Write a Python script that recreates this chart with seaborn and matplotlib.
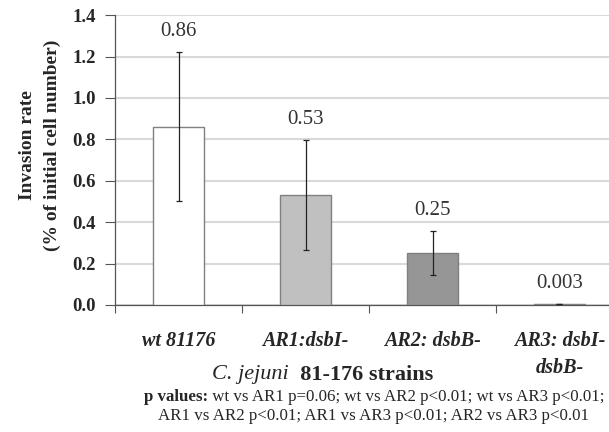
import matplotlib
matplotlib.use("Agg")
import matplotlib.pyplot as plt
import seaborn as sns

strains = ["wt 81176", "AR1:dsbI-", "AR2: dsbB-", "AR3: dsbI-\ndsbB-"]
invasion = [0.86, 0.53, 0.25, 0.003]
err = [0.36, 0.265, 0.105, 0.0]
value_labels = ["0.86", "0.53", "0.25", "0.003"]
bar_colors = ["#ffffff", "#c0c0c0", "#969696", "#303030"]

sns.set_style("white")
plt.rcParams["font.family"] = ["Liberation Serif", "DejaVu Serif"]

fig = plt.figure(figsize=(6.09, 4.32), dpi=100)
ax = fig.add_axes([0.189, 0.294, 0.811, 0.671])

sns.barplot(x=strains, y=invasion, hue=strains, palette=bar_colors, legend=False,
            width=0.4, edgecolor="#808080", linewidth=1.0, ax=ax, zorder=3)
ax.errorbar(range(len(strains)), invasion, yerr=err, fmt="none", ecolor="#222222",
            elinewidth=0.9, capsize=2, capthick=0.9, zorder=4)

for i, (v, e, lab) in enumerate(zip(invasion, err, value_labels)):
    ax.annotate(lab, (i, v + e), xytext=(0, 15), textcoords="offset points",
                ha="center", va="center", fontsize=15, color="#333333")

ax.set_ylim(0, 1.4)
ax.set_xlim(-0.5, 3.39)
ax.set_yticks([0, 0.2, 0.4, 0.6, 0.8, 1.0, 1.2, 1.4])
ax.set_yticklabels([f"{t:.1f}" for t in ax.get_yticks()], fontsize=13.5, fontweight="bold")
ax.yaxis.grid(True, color="#d9d9d9", linewidth=1.5, zorder=0)
ax.set_axisbelow(True)

# category boundary ticks on x axis, labels placed by hand
ax.set_xticks([-0.5, 0.5, 1.5, 2.5])
ax.set_xticklabels([])
ax.tick_params(axis="x", length=6, width=0.8, color="#555555", direction="out", bottom=True)
ax.tick_params(axis="y", length=7, width=0.8, color="#555555", direction="out", left=True, pad=7)
for i, s in enumerate(strains):
    ax.text(i, -0.09, s, transform=ax.get_xaxis_transform(), ha="center", va="top",
            fontsize=14.5, fontweight="bold", fontstyle="italic", linespacing=1.45)

for side in ["top", "right"]:
    ax.spines[side].set_visible(False)
for side in ["left", "bottom"]:
    ax.spines[side].set_color("#555555")
    ax.spines[side].set_linewidth(0.9)

ax.set_ylabel("Invasion rate\n(% of initial cell number)", fontsize=14, fontweight="bold",
              linespacing=1.55)
ax.yaxis.set_label_coords(-0.11, 0.55)


def mixed_line(parts, xc, y, size):
    # parts: list of (text, weight, style); drawn side by side, centred on xc
    renderer = fig.canvas.get_renderer()
    texts, widths = [], []
    for s, w, st in parts:
        t = fig.text(0, y, s, fontsize=size, fontweight=w, fontstyle=st, va="center")
        texts.append(t)
        widths.append(t.get_window_extent(renderer).width / fig.bbox.width)
    x = xc - sum(widths) / 2
    for t, wd in zip(texts, widths):
        t.set_x(x)
        x += wd


mixed_line([("C. jejuni", "normal", "italic"), ("  81-176 strains", "bold", "normal")],
           0.53, 1 - 375 / 432, 16)
mixed_line([("p values:", "bold", "normal"),
            (" wt vs AR1 p=0.06; wt vs AR2 p<0.01; wt vs AR3 p<0.01;", "normal", "normal")],
           0.614, 1 - 397 / 432, 12.2)
mixed_line([("AR1 vs AR2 p<0.01; AR1 vs AR3 p<0.01; AR2 vs AR3 p<0.01", "normal", "normal")],
           0.614, 1 - 416 / 432, 12.2)

fig.savefig("out.png", dpi=100)
